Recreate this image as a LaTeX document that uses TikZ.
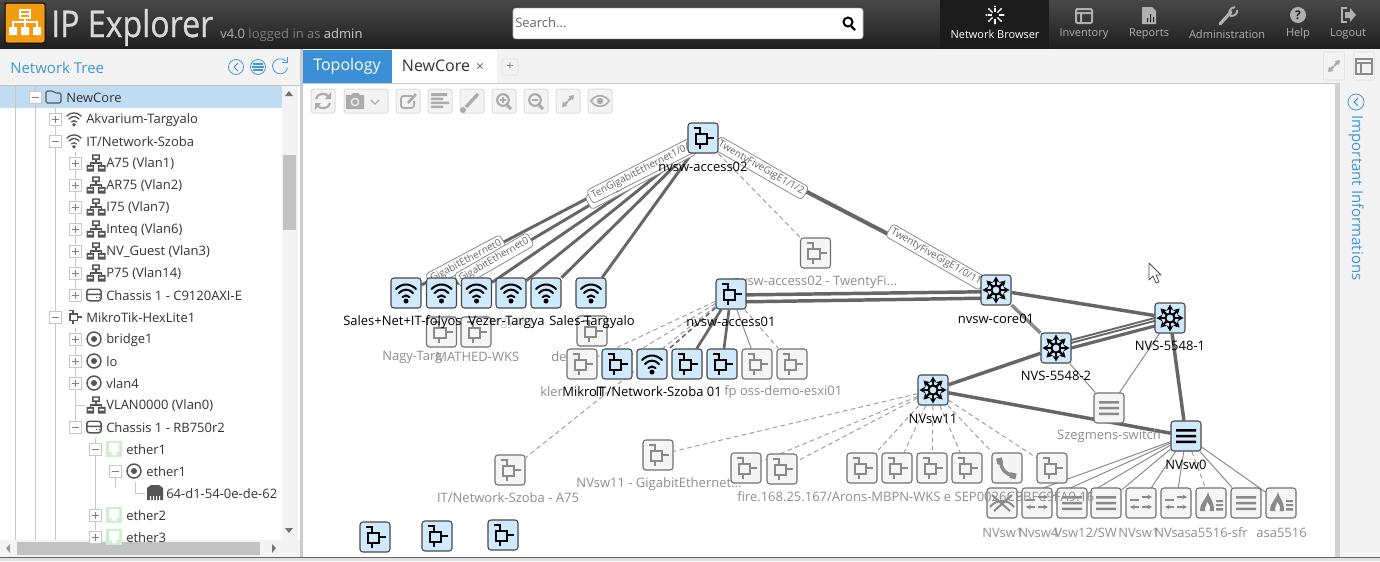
\documentclass[tikz,border=0pt]{standalone}
\usepackage{fontspec}
\setmainfont{Open Sans}
\usetikzlibrary{arrows.meta,shapes.geometric}
\definecolor{hdtop}{HTML}{484848}\definecolor{hdbot}{HTML}{1F1F1F}
\definecolor{navsel}{HTML}{1C1C1C}\definecolor{orng}{HTML}{F39C12}
\definecolor{panel}{HTML}{F3F3F3}\definecolor{tabblue}{HTML}{3A8FD6}
\definecolor{linkb}{HTML}{3E97DA}\definecolor{treesel}{HTML}{BFDCF2}
\definecolor{treetx}{HTML}{333333}\definecolor{treeln}{HTML}{C8C8C8}
\definecolor{icdark}{HTML}{555555}\definecolor{devonf}{HTML}{CFEAFC}
\definecolor{devond}{HTML}{484848}\definecolor{devoff}{HTML}{F5F5F5}
\definecolor{devoffd}{HTML}{707070}\definecolor{iconoff}{HTML}{8A8A8A}
\definecolor{lnk}{HTML}{666666}\definecolor{lnkl}{HTML}{8C8C8C}
\definecolor{dashc}{HTML}{A0A0A0}\definecolor{lbloff}{HTML}{8E8E8E}
\definecolor{toolb}{HTML}{F3F3F3}\definecolor{toolbd}{HTML}{DDDDDD}\definecolor{toolic}{HTML}{ABABAB}
\definecolor{navic}{HTML}{B0B0B0}\definecolor{ethg}{HTML}{CDEFCF}
\colorlet{ic}{black}
\pgfdeclarelayer{chrome}\pgfdeclarelayer{edges}
\pgfsetlayers{chrome,edges,main}
\newcommand\fsz[1]{\pgfmathsetlengthmacro\tmpz{#1*0.75}\fontsize{\tmpz}{\tmpz}\selectfont}
\def\icw{1.5pt}
% ---- icons, drawn round (0,0) in px ----
\newcommand\icoRouter{\draw[ic,line width=\icw,line join=miter] (-9,-10.5)--(-3,-10.5)--(-3,-4.5) (-7.5,-4.5) rectangle (4,5.5) (4,0)--(11,0) (-3,5.5)--(-3,10.5);}
\newcommand\icoStar{\foreach \a in {0,45,...,315}{\draw[ic,line width=1.8pt,-{Stealth[length=4.5pt,width=5pt]}] (\a:5)--(\a:13.5);}\draw[ic,line width=\icw] (0,0) circle[radius=4.6];}
\newcommand\icoWifi{\draw[ic,line width=\icw,line cap=round] (-10,-4)..controls(-4,-10)and(4,-10)..(10,-4) (-7,0)..controls(-3,-4.5)and(3,-4.5)..(7,0) (-3.5,4)..controls(-1.5,2)and(1.5,2)..(3.5,4);\fill[ic] (0,8) circle[radius=2.5];}
\newcommand\icoLines{\fill[ic] (-10,-7) rectangle (10,-4.5) (-10,-1.2) rectangle (10,1.3) (-10,4.5) rectangle (10,7);}
\newcommand\icoArrows{\draw[ic,line width=\icw,-{Stealth[length=3.5pt,width=3.5pt]}] (1,-6)--(11,-6);\draw[ic,line width=\icw] (-11,-3)--(-2,-3);\draw[ic,line width=\icw,-{Stealth[length=3.5pt,width=3.5pt]}] (-2,4)--(-11,4);\draw[ic,line width=\icw,-{Stealth[length=3.5pt,width=3.5pt]}] (1,4)--(11,4);}
\newcommand\icoFire{\fill[ic] (-3,-11)..controls(-2,-5)and(3,-3)..(3,8)--(-11,8)..controls(-12,1)and(-5,-3)..(-3,-11)--cycle;\fill[white] (-5.5,8)..controls(-7,4)and(-4,3)..(-4,-1)..controls(-1,3)and(0,5)..(-1.5,8)--cycle;\fill[ic] (5,-3) rectangle (12,-.8) (5,1) rectangle (12,3.2) (5,5) rectangle (12,7.5);}
\newcommand\icoPhone{\draw[ic,line width=2.6pt] (-6.5,-6)..controls(-6,1)and(-1,7)..(6,7);\draw[ic,line width=4.4pt] (-8,-10)--(-6.6,-4) (3,7)--(9,8.5);}
\newcommand\icoMesh{\draw[ic,line width=\icw] (-10,-8)--(8,8) (10,-8)--(-8,8) (-12,4)..controls(-6,-4)and(6,-4)..(12,4);}
\newcommand\icoNet{\fill[ic] (-4,-9) rectangle (4,-3) (-10,2) rectangle (-2,9) (2,2) rectangle (10,9);\draw[ic,line width=1pt] (0,-3)--(0,0) (-6,2)--(-6,0)--(6,0)--(6,2);\fill[white] (-2.5,-7.5) rectangle (2.5,-5) (-8.5,4) rectangle (-3.5,6) (3.5,4) rectangle (8.5,6);}
\newcommand\icoChassis{\draw[ic,line width=1.1pt,rounded corners=2pt] (-10,-8) rectangle (10,8) (-10,-1)--(10,-1);\fill[ic] (3,3) rectangle (4.5,4.5) (6.5,3) rectangle (8,4.5);}
\newcommand\icoRing{\draw[ic,line width=1.1pt] (0,0) circle[radius=7];\fill[ic] (0,0) circle[radius=3];}
\newcommand\icoEth{\fill[ethg] (-8,-8) rectangle (8,8);\fill[white] (-5,-6) rectangle (5,3) (-2.5,3) rectangle (2.5,6);}
\newcommand\icoPort{\fill[ic] (-8,-5)--(-4,-8)--(4,-8)--(8,-5)--(8,7)--(-8,7)--cycle;\fill[white] (-5,3) rectangle (-4,7) (-2,3) rectangle (-1,7) (1,3) rectangle (2,7) (4,3) rectangle (5,7);}
\tikzset{
 devon/.style={draw=devond,fill=devonf,rounded corners=2.2pt,minimum size=22.5pt,inner sep=0pt,line width=.8pt},
 devoff/.style={draw=devoffd,fill=devoff,rounded corners=2.2pt,minimum size=22.5pt,inner sep=0pt,line width=.8pt},
 lblon/.style={inner sep=0pt,text=black,font=\fsz{13}},
 lbloffs/.style={inner sep=0pt,text=lbloff,font=\fsz{13}},
 treetxt/.style={anchor=west,inner sep=0pt,text=treetx,font=\fsz{13}},
 thick link/.style={draw=lnk,line width=2.6pt},
 thin link/.style={draw=lnkl,line width=.75pt},
 dash link/.style={draw=dashc,line width=.75pt,dash pattern=on 3.5pt off 2.5pt},
 elabel/.style={draw=lnkl,fill=white,rounded corners=2.5pt,inner xsep=2pt,inner ysep=1.8pt,text=lnk,font=\fsz{10},line width=.6pt},
 tbtn/.style={draw=toolbd,fill=toolb,rounded corners=2pt,minimum width=18pt,minimum height=18pt,inner sep=0pt,line width=.75pt},
 navtx/.style={inner sep=0pt,text=navic,font=\fsz{12}},
}
% name, position, on/off, icon
\newcommand\dev[4]{\node[dev#3] (#1) at (#2) {};
 \begin{scope}[shift={(#1.center)}]\def\tmpa{#3}\def\tmpb{on}\ifx\tmpa\tmpb\colorlet{ic}{black}\else\colorlet{ic}{iconoff}\fi\def\icw{1.5pt}\csname ico#4\endcsname\end{scope}}
% icon in tree/anywhere
\newcommand\tic[3]{\begin{scope}[shift={(#1)},scale=#2]\colorlet{ic}{icdark}\def\icw{1.3pt}\csname ico#3\endcsname\end{scope}}
\newcommand\expb[3]{\draw[treeln,fill=white,line width=.6pt] (#1-6,#2-6) rectangle (#1+6,#2+6);\draw[gray,line width=.6pt] (#1-3.5,#2)--(#1+3.5,#2);\if#3+\draw[gray,line width=.6pt] (#1,#2-3.5)--(#1,#2+3.5);\fi}
\newcommand\row[4]{\node[treetxt] (#1) at (#2,#3+1) {#4};}
% outward double arrow, centre and half size
\newcommand\dblarrow[3]{\begin{scope}[shift={(#1,#2)},scale=#3]\fill[toolic] (6,-6)--(0.5,-5)--(2,-3.6)--(-.5,-1)--(1,.5)--(3.6,-2)--(5,-.5)--cycle;\fill[toolic] (-6,6)--(-.5,5)--(-2,3.6)--(.5,1)--(-1,-.5)--(-3.6,2)--(-5,.5)--cycle;\end{scope}}
\begin{document}
\begin{tikzpicture}[x=0.75pt,y=-0.75pt]
\useasboundingbox (0,0) rectangle (1380,561);
\begin{pgfonlayer}{chrome}
\fill[white] (0,0) rectangle (1380,561);
\shade[top color=hdtop,bottom color=hdbot] (0,0) rectangle (1380,49);
\fill[navsel] (940,0) rectangle (1049,49);
\fill[panel] (0,49) rectangle (300,85);
\draw[treeln,line width=.75pt] (0,85)--(300,85);
\fill[panel] (300,49) rectangle (1380,83);
\draw[treeln,line width=.75pt] (303,83)--(1380,83);
\fill[treesel] (0,86) rectangle (282,108);
\fill[black!20] (300,49) rectangle (303,561);
\fill[panel] (1340,83) rectangle (1380,557);
\fill[black!18] (1335,83) rectangle (1340,557);
\fill[panel] (282,86) rectangle (298,540);
\fill[black!24] (283,155) rectangle (296,230);
\fill[panel] (0,540) rectangle (300,557);
\fill[black!24] (17,542) rectangle (260,555);
\fill[black!55] (289,91)--(285,96)--(293,96)--cycle;
\fill[black!55] (289,533)--(285,528)--(293,528)--cycle;
\fill[black!40] (6,548)--(10,544)--(10,553)--cycle;
\fill[black!55] (276,548)--(272,544)--(272,553)--cycle;
\fill[tabblue] (303,50) rectangle (392,83);
\fill[white] (392,50) rectangle (497,83);
\draw[treeln,line width=.6pt] (15,86)--(15,540) (35,86)--(35,540) (55,108)--(55,540) (75,152)--(75,295) (75,328)--(75,427) (95,438)--(95,530) (115,478)--(115,488) (135,482)--(135,493)--(145,493) (75,405)--(85,405);
\end{pgfonlayer}
% ---- header content ----
\node[draw=black,fill=orng,rounded corners=1.5pt,minimum size=30pt,inner sep=0pt,line width=.75pt] (logo) at (25,23) {};
\begin{scope}[shift={(logo.center)}]
\draw[white,line width=1pt] (-5,-13) rectangle (5,-5) (-5,-9)--(5,-9);
\draw[white,line width=1pt] (0,-5)--(0,-1) (-12,4)--(-12,-1)--(12,-1)--(12,4) (0,-1)--(0,4);
\fill[white] (-16,4) rectangle (-8,12) (-4,4) rectangle (4,12) (8,4) rectangle (16,12);
\end{scope}
\node[anchor=base west,inner sep=0pt,text=white!85!black] (title) at (51,37) {\resizebox{121.5pt}{21pt}{\addfontfeature{FakeBold=0.8}IP Explorer}};
\node[anchor=base west,inner sep=0pt,font=\fsz{13}] (ver) at (220,38) {\textcolor{white!70!black}{v4.0} \textcolor{white!50!black}{logged in as} \textcolor{white!80!black}{admin}};
\node[draw=black!30,fill=white,rounded corners=2pt,minimum width=262.5pt,minimum height=23pt,inner sep=0pt] (search) at (688,23.5) {};
\node[anchor=west,inner sep=0pt,text=black!60,font=\fsz{13}] (searchtx) at (515,23) {Search...};
\draw[black,line width=1.5pt] (848,22) circle[radius=4.5];
\draw[black,line width=1.8pt] (851,26)--(855,30);
\node[navtx,text=white] (nav1) at (995,34) {\resizebox{66.7pt}{!}{Network Browser}};
\node[navtx] (nav2) at (1084,34) {\resizebox{36.5pt}{!}{Inventory}};
\node[navtx] (nav3) at (1149,34) {\resizebox{30pt}{!}{Reports}};
\node[navtx] (nav4) at (1227,34) {\resizebox{57pt}{!}{Administration}};
\node[navtx] (nav5) at (1298,34) {\resizebox{18pt}{!}{Help}};
\node[navtx] (nav6) at (1348,34) {\resizebox{27pt}{!}{Logout}};
\begin{scope}[shift={(995,15)}]
\foreach \a in {0,45,...,315}{\draw[white,line width=1pt] (\a:3.5)--(\a:7.5);\fill[white] (\a:8.5) circle[radius=1.2];}
\end{scope}
\draw[navic,line width=1.5pt,rounded corners=1pt] (1076,9) rectangle (1092,23) (1076,13)--(1092,13) (1081,13)--(1081,23);
\fill[navic] (1142,7)--(1152,7)--(1156,11)--(1156,24)--(1142,24)--cycle;
\fill[hdbot] (1147,18) rectangle (1148,22) (1150,14) rectangle (1151,22) (1153,17) rectangle (1154,22);
\draw[navic,line width=2.4pt,line cap=round] (1220,24)--(1231,12);
\draw[navic,line width=1.5pt] (1235,7)..controls(1229,8)and(1228,13)..(1231,16)..controls(1235,16)and(1238,13)..(1237,10);
\fill[navic] (1298,15) circle[radius=8];
\node[inner sep=0pt,text=hdbot,font=\bfseries\fsz{12}] (helpq) at (1298,15) {?};
\draw[navic,line width=1.4pt] (1347,8)--(1342,8)--(1342,22)--(1347,22);
\fill[navic] (1345,12)--(1350,12)--(1350,8)--(1356,15)--(1350,22)--(1350,18)--(1345,18)--cycle;
% panel heads
\node[anchor=west,inner sep=0pt,text=linkb,font=\fsz{15}] (nettree) at (10,68) {Network Tree};
\foreach \xx in {236,258}{\draw[linkb,line width=.6pt] (\xx,67) circle[radius=7.5];}
\draw[linkb,line width=.6pt] (286,61)..controls(282,57)and(273,58)..(272.5,66)..controls(273,75)and(285,77)..(287.5,68);
\draw[linkb,line width=.7pt] (238,63)--(234,67)--(238,71);
\draw[linkb,line width=.9pt] (253,64)--(263,64) (252,67)--(264,67) (253,70)--(263,70);
\draw[linkb,line width=.7pt] (282,62)--(287,62)--(287,57);
\node[inner sep=0pt,text=white,font=\fsz{16}] (tabtopo) at (347,66) {Topology};
\node[inner sep=0pt,text=treetx,font=\fsz{16}] (tabcore) at (436,66) {NewCore};
\node[inner sep=0pt,text=black!60,font=\fsz{14}] (tabx) at (480,67) {×};
\node[draw=toolbd,fill=toolb,rounded corners=1.5pt,minimum size=12pt,inner sep=0pt,text=black!50,font=\fsz{13}] (tabplus) at (510,67) {+};
\node[draw=toolbd,fill=toolb,rounded corners=1.5pt,minimum width=16pt,minimum height=21pt,inner sep=0pt] (tr1) at (1334,66) {};
\node[draw=toolbd,fill=toolb,rounded corners=1.5pt,minimum width=16pt,minimum height=21pt,inner sep=0pt] (tr2) at (1364,66) {};
\dblarrow{1334}{66}{1}
\draw[iconoff,line width=1.2pt] (1356,59) rectangle (1372,74) (1356,63)--(1372,63) (1361,63)--(1361,74);
% right panel
\draw[linkb,line width=.6pt] (1356,102) circle[radius=8];
\draw[linkb,line width=.8pt] (1358,98)--(1354,102)--(1358,106);
\node[rotate=-90,inner sep=0pt,text=linkb,font=\fsz{15}] (impinf) at (1356,198) {Important Informations};
% toolbar
\node[tbtn] (b1) at (323,101) {};
\node[tbtn,minimum width=33pt] (b2) at (366,101) {};
\node[tbtn] (b3) at (408,101) {};
\node[tbtn] (b4) at (440,101) {};
\node[tbtn] (b5) at (472,101) {};
\node[tbtn] (b6) at (504,101) {};
\node[tbtn] (b7) at (536,101) {};
\node[tbtn] (b8) at (568,101) {};
\node[tbtn] (b9) at (600,101) {};
\draw[toolic,line width=1.6pt] (316,99)..controls(317,93)and(326,92)..(329,97) (330,103)..controls(329,109)and(320,110)..(317,105);
\fill[toolic] (331,92)--(331,99)--(325,99)--cycle (315,110)--(315,103)--(321,103)--cycle;
\fill[toolic] (346,95)--(351,95)--(353,93)--(358,93)--(360,95)--(364,95)--(364,109)--(346,109)--cycle;
\fill[toolb] (355,102) circle[radius=4.3];\fill[toolic] (355,102) circle[radius=2.8];
\draw[toolic,line width=.8pt] (371,100)--(375,104)--(379,100);
\draw[toolic,line width=1.4pt,rounded corners=2pt] (412,96)--(401,96)--(401,108)--(414,108)--(414,101);
\draw[toolic,line width=2pt] (408,103)--(416,94);
\fill[toolic] (431,93) rectangle (447,96) (431,97.5) rectangle (443,100) (431,101.5) rectangle (449,104) (431,105.5) rectangle (443,108);
\draw[toolic,line width=2.5pt] (466,107)--(478,94);\fill[toolic] (463,110) circle[radius=3];
\foreach \xx/\s in {504/+,536/-}{\draw[toolic,line width=1.6pt] (\xx-1,100) circle[radius=5.8];\draw[toolic,line width=2.2pt] (\xx+3,105)--(\xx+7,109);\draw[toolic,line width=.9pt] (\xx-4,100)--(\xx+2,100);}
\draw[toolic,line width=.9pt] (503,97)--(503,103);
\dblarrow{568}{101}{1}
\draw[toolic,line width=1.2pt] (591,101)..controls(595,94)and(605,94)..(609,101)..controls(605,108)and(595,108)..(591,101)--cycle;\fill[toolic] (600,101) circle[radius=3.2];
% ---- tree ----
\row{r0}{66}{97}{NewCore}
\row{r1}{86}{119}{Akvarium-Targyalo}
\row{r2}{86}{141}{IT/Network-Szoba}
\row{r3}{106}{163}{A75 (Vlan1)}
\row{r4}{106}{185}{AR75 (Vlan2)}
\row{r5}{106}{207}{I75 (Vlan7)}
\row{r6}{106}{229}{Inteq (Vlan6)}
\row{r7}{106}{251}{NV\_Guest (Vlan3)}
\row{r8}{106}{273}{P75 (Vlan14)}
\row{r9}{106}{295}{Chassis 1 - C9120AXI-E}
\row{r10}{86}{317}{MikroTik-HexLite1}
\row{r11}{106}{339}{bridge1}
\row{r12}{106}{361}{lo}
\row{r13}{106}{383}{vlan4}
\row{r14}{106}{405}{VLAN0000 (Vlan0)}
\row{r15}{106}{427}{Chassis 1 - RB750r2}
\row{r16}{126}{449}{ether1}
\row{r17}{146}{471}{ether1}
\row{r18}{166}{493}{64-d1-54-0e-de-62}
\row{r19}{126}{515}{ether2}
\row{r20}{126}{537}{ether3}
\expb{35}{97}{-}\expb{55}{119}{+}\expb{55}{141}{-}
\foreach \yy in {163,185,207,229,251,273,295}{\expb{75}{\yy}{+}}
\expb{55}{317}{-}
\foreach \yy in {339,361,383}{\expb{75}{\yy}{+}}
\expb{75}{427}{-}\expb{95}{449}{-}\expb{115}{471}{-}\expb{95}{515}{+}\expb{95}{537}{+}
\draw[icdark,line width=.8pt,rounded corners=1pt] (46,103)--(46,91)--(53,91)--(55,93)--(61,93)--(61,103)--cycle;
\foreach \yy in {119,141}{\begin{scope}[shift={(74,\yy)},scale=.72]\colorlet{ic}{icdark}\def\icw{1pt}\icoWifi\end{scope}}
\foreach \yy in {163,185,207,229,251,273,405}{\tic{96,\yy}{.95}{Net}}
\tic{94,295}{.72}{Chassis}\tic{94,427}{.72}{Chassis}
\tic{75,317}{.62}{Router}
\foreach \yy in {339,361,383}{\tic{94,\yy}{1}{Ring}}
\tic{134,471}{1}{Ring}
\tic{114,449}{1}{Eth}\tic{114,515}{1}{Eth}\tic{114,537}{1}{Eth}
\tic{155,493}{1}{Port}
% ---- inactive nodes ----
\node[lbloffs,text=black!22] (f1) at (490,322) {Nagy-Targyalo};
\dev{n441}{441.5,332}{off}{Router}
\dev{n476}{476,332}{off}{Router}
\dev{n591}{592,331}{off}{Router}
\node[lbloffs,anchor=west] (l441) at (382,357) {Nagy-Targ};
\node[lbloffs,anchor=west] (l476) at (435,357) {MATHED-WKS};
\node[lbloffs,anchor=west] (l591) at (551,357) {de};
\dev{tf}{815.5,253}{off}{Router}
\node[lbloffs] (ltf) at (815,282) {nvsw-access02 - TwentyFi...};
\dev{n582}{582,364}{off}{Router}
\dev{n757}{757,364}{off}{Router}
\dev{n792}{792,364}{off}{Router}
\node[lbloffs,anchor=west] (l582) at (540,392) {kler};
\node[lbloffs,anchor=west] (l757) at (724,392) {fp oss-demo-esxi01};
\dev{a75}{510,470}{off}{Router}
\node[lbloffs] (la75) at (508,498) {IT/Network-Szoba - A75};
\dev{gi}{658,455}{off}{Router}
\node[lbloffs] (lgi) at (659,484) {NVsw11 - GigabitEthernet...};
\dev{n746}{746,468}{off}{Router}
\dev{n782}{782,469}{off}{Router}
\dev{n862}{862,468}{off}{Router}
\dev{n897}{897,468}{off}{Router}
\dev{n932}{932,468}{off}{Router}
\dev{n967}{967,468}{off}{Router}
\dev{ph}{1007,468}{off}{Phone}
\dev{n1052}{1052,468}{off}{Router}
\dev{b1002}{1002,503}{off}{Mesh}
\dev{b1037}{1037,503}{off}{Arrows}
\dev{b1072}{1072,503}{off}{Lines}
\dev{b1106}{1106,503}{off}{Lines}
\dev{b1141}{1141,503}{off}{Arrows}
\dev{b1176}{1176,503}{off}{Arrows}
\dev{b1211}{1211,503}{off}{Fire}
\dev{b1246}{1246,503}{off}{Lines}
\dev{b1281}{1281,503}{off}{Fire}
\node[lbloffs,anchor=west] (l1) at (737,497) {fire.168.25.167/Arons-MBPN-WKS e SEP0026CBBFC9FA9.16};
\node[lbloffs,anchor=west] (l2a) at (982,533) {NVsw1};
\node[lbloffs,anchor=west] (l2b) at (1018,533) {Nvsw4};
\node[lbloffs,anchor=west] (l2c) at (1054,533) {Vsw12/SW};
\node[lbloffs,anchor=west] (l2d) at (1118,533) {NVsw1};
\node[lbloffs,anchor=west] (l2e) at (1154,533) {NVs};
\node[lbloffs,anchor=west] (l2f) at (1177,533) {asa5516-sfr};
\node[lbloffs,anchor=east] (l3) at (1307,533) {asa5516};
\dev{sz}{1109,408}{off}{Lines}
\node[lbloffs] (lsz) at (1109,436) {Szegmens-switch};
% ---- active nodes ----
\dev{ac2}{703,138}{on}{Router}
\node[lblon] (lac2) at (703,167) {nvsw-access02};
\dev{w1}{406,293}{on}{Wifi}
\dev{w2}{441.5,293}{on}{Wifi}
\dev{w3}{476.5,293}{on}{Wifi}
\dev{w4}{511,293}{on}{Wifi}
\dev{w5}{546,293}{on}{Wifi}
\dev{w6}{591,293}{on}{Wifi}
\node[lblon,anchor=west] (lw1) at (343,322) {Sales+Net+IT-folyos};
\node[lblon,anchor=west] (lw2) at (468,322) {Vezer-Targya};
\node[lblon,anchor=east] (lw3) at (635,322) {Sales-Targyalo};
\dev{ac1}{731,294}{on}{Router}
\node[lblon] (lac1) at (731,322) {nvsw-access01};
\dev{m617}{617,364}{on}{Router}
\dev{m652}{652,364}{on}{Wifi}
\dev{m687}{687,364}{on}{Router}
\dev{m722}{722,364}{on}{Router}
\node[lblon,anchor=west] (lm1) at (562,392) {MikroT};
\node[lblon,anchor=east] (lm2) at (722,392) {IT/Network-Szoba 01};
\dev{core}{996,290}{on}{Star}
\node[lblon] (lcore) at (996,319) {nvsw-core01};
\dev{s1}{1170,318}{on}{Star}
\node[lblon] (ls1) at (1170,346) {NVS-5548-1};
\dev{s2}{1056,348}{on}{Star}
\node[lblon] (ls2) at (1056,376) {NVS-5548-2};
\dev{sw11}{933,390}{on}{Star}
\node[lblon] (lsw11) at (933,419) {NVsw11};
\dev{sw0}{1186,436}{on}{Lines}
\node[lblon] (lsw0) at (1186,465) {NVsw0};
\dev{x1}{375,537}{on}{Router}
\dev{x2}{437,536}{on}{Router}
\dev{x3}{503,535}{on}{Router}
% mouse cursor
\draw[black!70,fill=white,line width=.6pt,line join=round] (1149,263)--(1149,280)--(1153,276)--(1156,283)--(1159,282)--(1156,275)--(1161,275)--cycle;
% bottom strip
\fill[black!12] (0,557) rectangle (1380,561);
\draw[black!60,line width=.75pt] (0,557.5)--(1380,557.5);
% ---- connectors ----
\begin{pgfonlayer}{edges}
\foreach \t in {w1,w2,w3,w4,w5,w6}{\draw[thick link,line width=2.2pt] (ac2)--(\t);}
\draw[thick link,line width=3pt] (ac2)--(core);
\draw[dash link] (ac2)--(tf);
\draw[thick link,line width=2.6pt] ([yshift=-.8pt]ac1.center)--([yshift=-1.2pt]core.center);
\draw[thick link,line width=2.6pt] ([yshift=-6pt]ac1.center)--([yshift=-6pt]core.center);
\draw[thick link] (core)--(s1);
\draw[thick link,draw=lnkl] (core)--(s2);
\draw[thick link,line width=1.4pt] ([yshift=3pt]s2.center)--([yshift=3pt]s1.center);
\draw[thick link,line width=1.4pt] ([yshift=.8pt]s2.center)--([yshift=.8pt]s1.center);
\draw[thick link,line width=2.4pt] ([yshift=-3pt]s2.center)--([yshift=-3pt]s1.center);
\draw[thick link] (s2)--(sw11);
\draw[thick link] (sw11)--(sw0);
\draw[thick link] (s1)--(sw0);
\draw[thin link] (s2)--(sz);
\draw[thin link] (s1)--(sz);
\foreach \t in {a75,n582,m617}{\draw[dash link] (ac1)--(\t);}
\draw[dash link,draw=lnk,line width=1.2pt] (ac1)--(m652);
\draw[thick link,line width=2pt] (ac1)--(m687);
\draw[thick link,line width=2pt] (ac1)--(m722);
\draw[thin link] (ac1)--(n757);
\draw[dash link] (ac1)--(n792);
\foreach \t in {gi,n746,n782,n862,n897,n932,n967,ph,n1052}{\draw[dash link] (sw11)--(\t);}
\foreach \t in {b1002,b1037,b1072,b1106,b1141,b1176,b1246,b1281}{\draw[thin link] (sw0)--(\t);}
\draw[dash link] (sw0)--(b1211);
\node[elabel,rotate=28] (e3) at (641,175) {TenGigabitEthernet1/0/4};
\node[elabel,rotate=27] (e0) at (643,170) {TenGigabitEthernet1/0/4};
\node[elabel,rotate=28] (e1) at (466,261) {GigabitEthernet0};
\node[elabel,rotate=30] (e2) at (494,260) {GigabitEthernet0};
\node[elabel,rotate=-30] (e4) at (761,168) {TwentyFiveGigE1/1/2};
\node[elabel,rotate=-30] (e5) at (936,257) {TwentyFiveGigE1/0/11};
\end{pgfonlayer}
\end{tikzpicture}
\end{document}
